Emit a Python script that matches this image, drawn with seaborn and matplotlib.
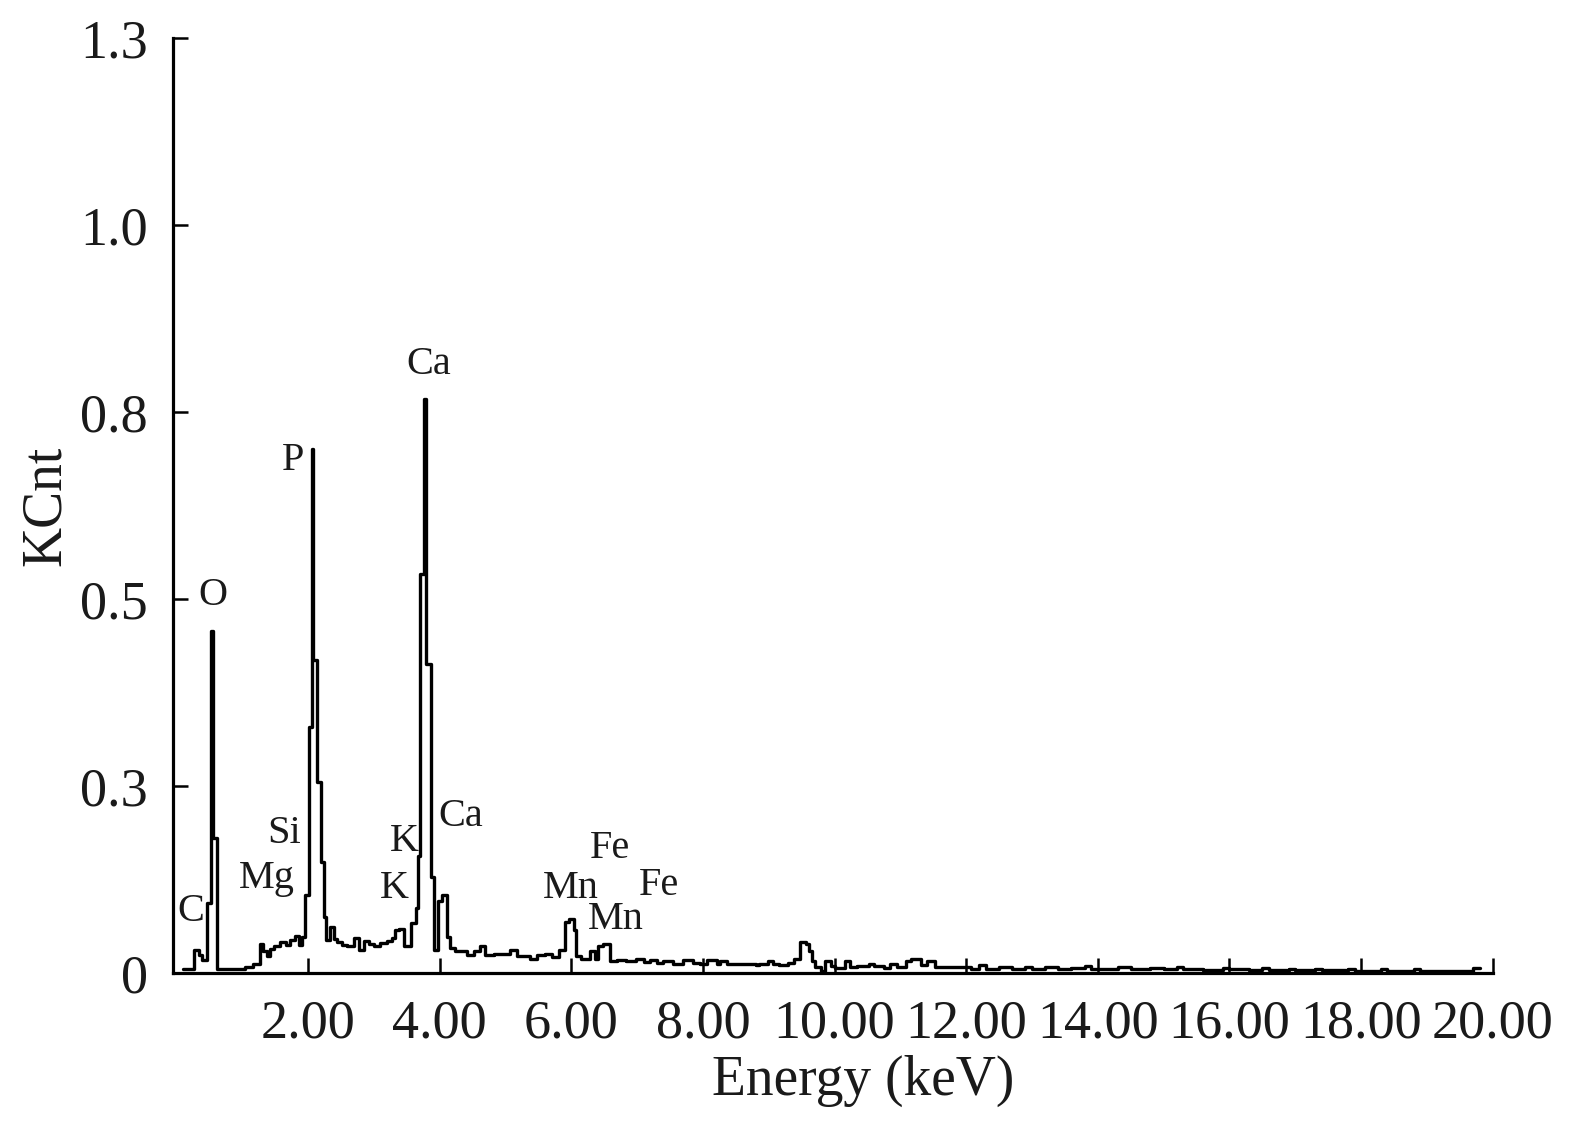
import matplotlib
matplotlib.use("Agg")
import matplotlib.pyplot as plt
import seaborn as sns
import pandas as pd

# Step-spectrum data: left edge of each channel group (keV) and level (KCnt)
energy = [0.11, 0.27, 0.34, 0.39, 0.46, 0.53, 0.555, 0.617, 1.05, 1.16,
          1.27, 1.32, 1.38, 1.43, 1.48, 1.58, 1.66, 1.73, 1.81, 1.86,
          1.91, 1.96, 2.01, 2.055, 2.08, 2.145, 2.20, 2.24, 2.27, 2.34,
          2.39, 2.44, 2.52, 2.60, 2.70, 2.77, 2.85, 2.93, 3.00, 3.10,
          3.20, 3.28, 3.33, 3.38, 3.46, 3.56, 3.64, 3.68, 3.70, 3.765,
          3.79, 3.87, 3.91, 3.98, 4.04, 4.11, 4.16, 4.24, 4.42, 4.52,
          4.62, 4.69, 4.82, 5.07, 5.18, 5.38, 5.48, 5.60, 5.71, 5.81,
          5.91, 5.97, 6.04, 6.08, 6.15, 6.28, 6.36, 6.41, 6.49, 6.59,
          6.69, 6.84, 6.99, 7.10, 7.20, 7.30, 7.40, 7.55, 7.70, 7.85,
          7.96, 8.06, 8.21, 8.26, 8.37, 8.52, 8.80, 8.86, 8.99, 9.07,
          9.15, 9.30, 9.38, 9.48, 9.56, 9.61, 9.66, 9.71, 9.79, 9.86,
          9.94, 10.00, 10.16, 10.24, 10.34, 10.52, 10.60, 10.75, 10.85, 10.95,
          11.08, 11.16, 11.31, 11.41, 11.52, 11.67, 12.08, 12.2, 12.3, 12.5,
          12.7, 12.9, 13.0, 13.2, 13.4, 13.6, 13.8, 13.9, 14.1, 14.3,
          14.5, 14.8, 15.0, 15.2, 15.3, 15.6, 15.9, 16.0, 16.3, 16.5,
          16.6, 16.9, 17.0, 17.3, 17.4, 17.8, 17.9, 18.3, 18.4, 18.8,
          18.9, 19.3, 19.7, 19.8]
kcnt = [0.005, 0.032, 0.025, 0.018, 0.097, 0.476, 0.188, 0.006, 0.009, 0.012,
        0.041, 0.030, 0.023, 0.034, 0.037, 0.043, 0.039, 0.046, 0.051, 0.039,
        0.050, 0.108, 0.342, 0.729, 0.435, 0.266, 0.155, 0.078, 0.046, 0.064,
        0.047, 0.043, 0.039, 0.037, 0.048, 0.032, 0.045, 0.040, 0.037, 0.042,
        0.044, 0.049, 0.060, 0.061, 0.037, 0.070, 0.090, 0.162, 0.555, 0.798,
        0.430, 0.133, 0.032, 0.100, 0.108, 0.050, 0.035, 0.030, 0.025, 0.030,
        0.037, 0.025, 0.027, 0.032, 0.023, 0.020, 0.025, 0.027, 0.022, 0.032,
        0.071, 0.075, 0.060, 0.023, 0.019, 0.030, 0.020, 0.037, 0.041, 0.016,
        0.018, 0.016, 0.019, 0.015, 0.018, 0.014, 0.016, 0.013, 0.018, 0.014,
        0.012, 0.018, 0.012, 0.016, 0.0125, 0.013, 0.011, 0.012, 0.017, 0.012,
        0.011, 0.014, 0.019, 0.0435, 0.041, 0.030, 0.016, 0.009, 0.003, 0.016,
        0.010, 0.007, 0.016, 0.008, 0.010, 0.012, 0.010, 0.007, 0.012, 0.009,
        0.016, 0.019, 0.011, 0.017, 0.009, 0.008, 0.006, 0.011, 0.006, 0.008,
        0.005, 0.009, 0.006, 0.008, 0.005, 0.007, 0.010, 0.006, 0.005, 0.008,
        0.005, 0.007, 0.005, 0.008, 0.005, 0.004, 0.007, 0.005, 0.004, 0.007,
        0.004, 0.006, 0.004, 0.006, 0.004, 0.006, 0.003, 0.005, 0.003, 0.005,
        0.003, 0.003, 0.007, 0.007]

# Element labels
label_text = ["C", "O", "Mg", "Si", "P", "K", "K", "Ca", "Ca", "Mn", "Fe", "Mn", "Fe"]
label_x = [0.22, 0.56, 1.37, 1.645, 1.77, 3.32, 3.46, 3.84, 4.32, 5.99, 6.59, 6.68, 7.34]
label_y = [0.085, 0.525, 0.132, 0.194, 0.713, 0.118, 0.183, 0.846, 0.217, 0.118, 0.173, 0.075, 0.122]

x_ticks = [2, 4, 6, 8, 10, 12, 14, 16, 18, 20]
x_ticklabels = ["2.00", "4.00", "6.00", "8.00", "10.00", "12.00", "14.00", "16.00", "18.00", "20.00"]
y_ticks = [0, 0.26, 0.52, 0.78, 1.04, 1.30]
y_ticklabels = ["0", "0.3", "0.5", "0.8", "1.0", "1.3"]

sns.set_style("ticks")
plt.rcParams["font.family"] = ["Liberation Serif", "DejaVu Serif"]

df = pd.DataFrame({"Energy": energy, "KCnt": kcnt})

fig = plt.figure(figsize=(15.75, 11.22), dpi=100)
ax = fig.add_axes([0.1098, 0.1328, 0.838, 0.8333])

sns.lineplot(data=df, x="Energy", y="KCnt", ax=ax, color="black", linewidth=2.4,
             drawstyle="steps-post", estimator=None, sort=False)

for t, xx, yy in zip(label_text, label_x, label_y):
    ax.text(xx, yy, t, fontsize=29, ha="center", va="center", color="#1a1a1a")

ax.set_xlim(-0.05, 20)
ax.set_ylim(0, 1.3)
ax.set_xticks(x_ticks)
ax.set_xticklabels(x_ticklabels)
ax.set_yticks(y_ticks)
ax.set_yticklabels(y_ticklabels)

for s in ["top", "right"]:
    ax.spines[s].set_visible(False)
for s in ["left", "bottom"]:
    ax.spines[s].set_linewidth(2.3)
    ax.spines[s].set_color("black")

ax.tick_params(axis="x", direction="in", length=11, width=1.8, pad=19,
               labelsize=39, colors="black", labelcolor="#1a1a1a")
ax.tick_params(axis="y", direction="in", length=11, width=1.8, pad=18,
               labelsize=39, colors="black", labelcolor="#1a1a1a")

ax.set_xlabel("Energy (keV)", fontsize=40, color="#1a1a1a")
ax.xaxis.set_label_coords(0.523, -0.088)
ax.set_ylabel("KCnt", fontsize=40, labelpad=6, color="#1a1a1a")

fig.savefig("out.png", dpi=100)
